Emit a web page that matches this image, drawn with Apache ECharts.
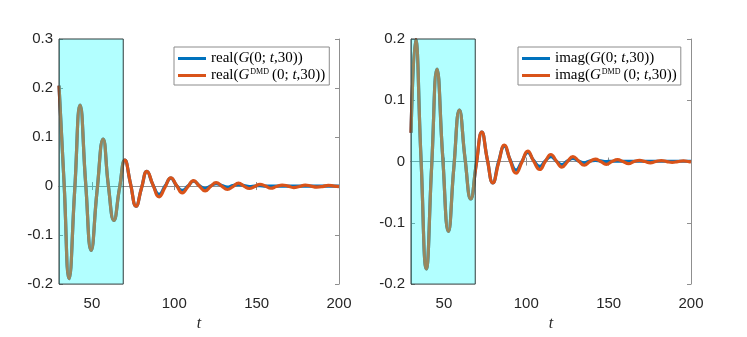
<!DOCTYPE html>
<html>
<head>
<meta charset="utf-8">
<script src="https://cdn.jsdelivr.net/npm/echarts@6/dist/echarts.min.js"></script>
<style>html,body{margin:0;padding:0;background:#fff}#c{width:747px;height:337px}</style>
</head>
<body>
<div id="c"></div>
<script>
// ---------- data ----------
var tReal = [30, 33.1, 36.1, 39.5, 42.8, 46.2, 49.5, 53.1, 56.8, 60.0, 63.3, 66.7, 70.0, 73.4, 76.8, 80.1, 83.4, 87.1, 90.8, 94.4, 97.9, 101.4, 104.9, 108.3, 111.7, 115.2, 118.7, 122.0, 125.4, 128.8, 132.2, 135.6, 139.0, 142.3, 145.6, 148.8, 152.0, 155.3, 158.6, 162.0, 165.5, 169.0, 172.5, 176.0, 179.5, 183.0, 186.5, 190.0, 193.5, 197.0, 200];
var realDMD = [0.205, 0.005, -0.189, -0.010, 0.165, 0.005, -0.131, -0.010, 0.096, 0.000, -0.070, -0.005, 0.053, 0.005, -0.041, -0.004, 0.030, 0.002, -0.022, -0.002, 0.017, 0.001, -0.014, -0.001, 0.011, 0.000, -0.010, -0.001, 0.007, 0.000, -0.007, -0.001, 0.006, 0.000, -0.005, -0.001, 0.0035, 0.000, -0.0045, -0.001, 0.002, 0.000, -0.003, -0.001, 0.002, 0.000, -0.002, -0.001, 0.0015, 0.000, -0.001];
var realG = [0.205, 0.005, -0.189, -0.010, 0.165, 0.005, -0.131, -0.010, 0.096, 0.000, -0.070, -0.005, 0.053, 0.005, -0.041, -0.004, 0.030, 0.002, -0.017, 0.000, 0.016, 0.001, -0.009, 0.000, 0.010, 0.001, -0.005, 0.000, 0.005, 0.001, -0.002, 0.001, 0.003, 0.001, -0.001, 0.000, 0.001, 0.000, 0.000, 0.000, 0.000, 0.000, 0.000, 0.000, 0.000, 0.000, 0.000, 0.000, 0.000, 0.000, 0.000];

var tImag = [30, 32.8, 36.0, 39.3, 42.5, 45.8, 49.2, 52.7, 56.0, 59.4, 62.8, 66.3, 69.6, 73.0, 76.3, 79.7, 83.2, 86.7, 90.2, 93.8, 97.3, 100.9, 104.4, 108.2, 111.5, 114.9, 118.2, 121.6, 125.0, 128.3, 131.7, 135.2, 138.5, 141.9, 145.2, 148.6, 152.0, 155.4, 158.7, 162.1, 165.4, 168.8, 172.0, 175.3, 178.6, 182.0, 185.3, 188.6, 192.0, 195.4, 198.7, 200];
var imagDMD = [0.047, 0.199, 0.010, -0.175, -0.010, 0.151, 0.010, -0.114, -0.010, 0.084, 0.005, -0.061, -0.005, 0.048, 0.004, -0.035, -0.002, 0.027, 0.002, -0.019, -0.001, 0.017, 0.001, -0.013, 0.000, 0.0115, 0.001, -0.009, 0.000, 0.008, 0.001, -0.006, 0.000, 0.004, 0.000, -0.0045, 0.000, 0.003, 0.000, -0.0035, 0.000, 0.002, 0.000, -0.002, 0.000, 0.0015, 0.000, -0.0015, 0.000, 0.001, 0.000, -0.0005];
var imagG = [0.047, 0.199, 0.010, -0.175, -0.010, 0.151, 0.010, -0.114, -0.010, 0.084, 0.005, -0.061, -0.005, 0.048, 0.004, -0.035, 0.000, 0.025, 0.003, -0.014, 0.000, 0.015, 0.002, -0.008, 0.001, 0.008, 0.001, -0.005, 0.001, 0.005, 0.001, -0.002, 0.001, 0.002, 0.001, 0.000, 0.0005, 0.0005, 0.0005, 0.0005, 0.0005, 0.0005, 0.0005, 0.0005, 0.0005, 0.0005, 0.0005, 0.0005, 0.0005, 0.0005, 0.0005, 0.0005];

var trainWindow = [30, 69];
var xTicks = [50, 100, 150, 200];
var xRange = [30, 200];
var yRangeReal = [-0.2, 0.3];
var yRangeImag = [-0.2, 0.2];
var legendReal = ['realG', 'realDMD'];
var legendImag = ['imagG', 'imagDMD'];
var legendText = {
  realG: 'real({i|G}(0; {i|t},30))',
  realDMD: 'real({i|G}{sup|DMD}(0; {i|t},30))',
  imagG: 'imag({i|G}(0; {i|t},30))',
  imagDMD: 'imag({i|G}{sup|DMD}(0; {i|t},30))'
};

// ---------- chart ----------
function pairs(t, v) { return t.map(function (x, i) { return [x, v[i]]; }); }

var BLUE = '#0072BD', ORANGE = '#D95319', AX = '#8f8f8f', TXT = '#262626';
var SANS = 'Liberation Sans, Arial, sans-serif';
var SERIF = 'Liberation Serif, Times New Roman, serif';

function xAxes(g) {
  return [{
    type: 'value', gridIndex: g, position: 'bottom', min: xRange[0], max: xRange[1],
    axisLine: { show: true, lineStyle: { color: AX, width: 1 } },
    axisTick: { show: true, inside: true, length: 4, customValues: xTicks, lineStyle: { color: AX } },
    axisLabel: { show: true, customValues: xTicks, margin: 12, color: TXT, fontFamily: SANS, fontSize: 15 },
    splitLine: { show: false },
    name: 't', nameLocation: 'middle', nameGap: 26,
    nameTextStyle: { fontFamily: SERIF, fontStyle: 'italic', fontSize: 16, color: TXT }
  }, {
    type: 'value', gridIndex: g, position: 'top', min: xRange[0], max: xRange[1],
    axisLine: { show: true, lineStyle: { color: AX, width: 1 } },
    axisTick: { show: true, inside: true, length: 4, customValues: xTicks, lineStyle: { color: AX } },
    axisLabel: { show: false }, splitLine: { show: false }
  }];
}
function yAxes(g, r) {
  return [{
    type: 'value', gridIndex: g, position: 'left', min: r[0], max: r[1], interval: 0.1,
    axisLine: { show: true, lineStyle: { color: AX, width: 1 } },
    axisTick: { show: true, inside: true, length: 4, lineStyle: { color: AX } },
    axisLabel: { show: true, margin: 6, color: TXT, fontFamily: SANS, fontSize: 15 },
    splitLine: { show: false }
  }, {
    type: 'value', gridIndex: g, position: 'right', min: r[0], max: r[1], interval: 0.1,
    axisLine: { show: true, lineStyle: { color: AX, width: 1 } },
    axisTick: { show: true, inside: true, length: 4, lineStyle: { color: AX } },
    axisLabel: { show: false }, splitLine: { show: false }
  }];
}
function lineSeries(name, xi, yi, data, color, withArea) {
  var s = {
    name: name, type: 'line', xAxisIndex: xi, yAxisIndex: yi, data: data,
    smooth: 0.5, showSymbol: false, symbol: 'none',
    lineStyle: { color: color, width: 3.2 }, itemStyle: { color: color },
    z: 2, animation: false
  };
  if (withArea) {
    s.markArea = {
      silent: true, z: 10,
      itemStyle: { color: 'rgba(0,255,255,0.3)', borderColor: '#2f3b3b', borderWidth: 1 },
      data: [[{ xAxis: trainWindow[0] }, { xAxis: trainWindow[1] }]]
    };
  }
  return s;
}
function legend(left, names) {
  return {
    left: left, top: 47, orient: 'vertical', data: names, selectedMode: false,
    icon: 'rect', itemWidth: 28, itemHeight: 3, itemGap: 2,
    padding: [4, 4, 2, 4], borderColor: '#8c8c8c', borderWidth: 1, backgroundColor: '#fff',
    formatter: function (n) { return legendText[n]; },
    textStyle: {
      fontFamily: SERIF, fontSize: 15, color: '#000',
      rich: {
        i: { fontFamily: SERIF, fontStyle: 'italic', fontSize: 15, color: '#000' },
        sup: { fontFamily: SERIF, fontSize: 8, color: '#000', verticalAlign: 'top', padding: [0, 3, 4, 1] }
      }
    }
  };
}

var chart = echarts.init(document.getElementById('c'), null, { renderer: 'canvas' });
chart.setOption({
  animation: false,
  backgroundColor: '#fff',
  grid: [
    { left: 59, top: 39, width: 280, height: 250 },
    { left: 411, top: 39, width: 280, height: 250 }
  ],
  xAxis: xAxes(0).concat(xAxes(1)),
  yAxis: yAxes(0, yRangeReal).concat(yAxes(1, yRangeImag)),
  legend: [legend(174, legendReal), legend(518, legendImag)],
  series: [
    lineSeries('realG', 0, 0, pairs(tReal, realG), BLUE, false),
    lineSeries('realDMD', 0, 0, pairs(tReal, realDMD), ORANGE, true),
    lineSeries('imagG', 2, 2, pairs(tImag, imagG), BLUE, false),
    lineSeries('imagDMD', 2, 2, pairs(tImag, imagDMD), ORANGE, true)
  ]
});
</script>
</body>
</html>
